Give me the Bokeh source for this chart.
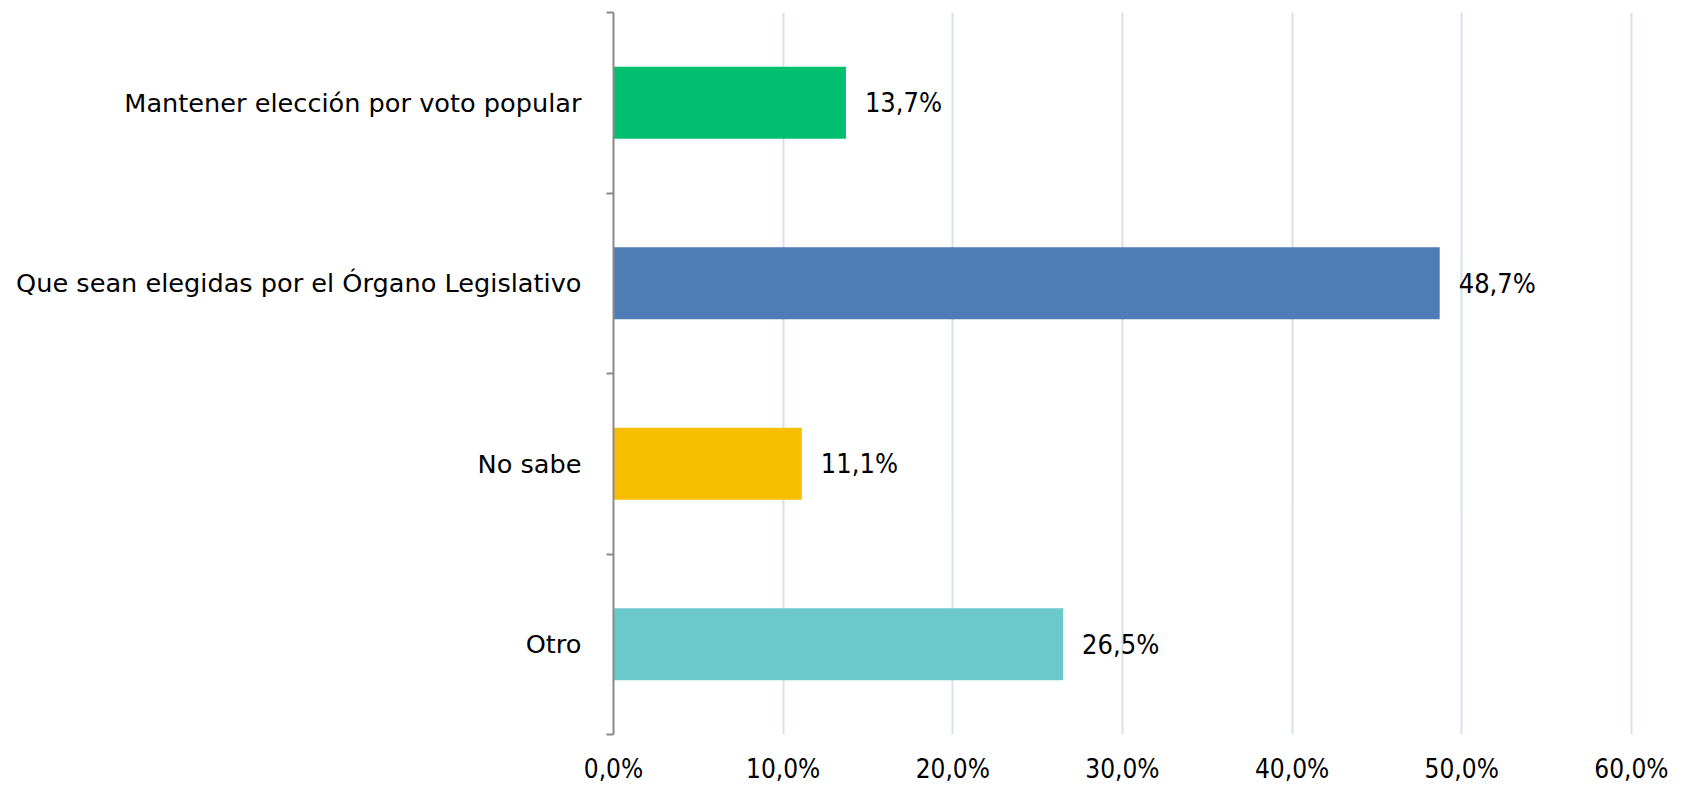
from bokeh.plotting import figure
from bokeh.models import Range1d, FixedTicker, ColumnDataSource
from bokeh.core.properties import value
from bokeh.embed import file_html
from bokeh.resources import INLINE

categories = ["Mantener elección por voto popular",
              "Que sean elegidas por el Órgano Legislativo",
              "No sabe",
              "Otro"]
values = [13.7, 48.7, 11.1, 26.5]
colors = ["#00BF6F", "#4E7CB5", "#F8BE00", "#6BC9CC"]
x_ticks = [0, 10, 20, 30, 40, 50, 60]
x_tick_labels = ["0,0%", "10,0%", "20,0%", "30,0%", "40,0%", "50,0%", "60,0%"]

FONT = "DejaVu Sans Condensed"
CAT_FONT = "DejaVu Sans"

n = len(categories)
ypos = [n - i - 0.5 for i in range(n)]
labels = [f"{v:.1f}".replace(".", ",") + "%" for v in values]

src = ColumnDataSource(dict(y=ypos, v=values, c=colors, lab=labels))

p = figure(width=1675, height=786, x_range=Range1d(0, 60.3), y_range=Range1d(0, n),
           output_backend="svg", toolbar_location=None,
           min_border_left=613, min_border_right=39, min_border_top=12, min_border_bottom=40)
p.outline_line_color = None
p.background_fill_color = "white"

p.hbar(y="y", right="v", left=0, height=0.4, color="c", line_color=None, source=src)
p.text(x="v", y="y", text="lab", source=src, x_offset=19,
       text_font=value(FONT), text_font_size="27px", text_baseline="middle",
       text_align="left", text_color="#000000")

# x axis
p.xaxis.ticker = FixedTicker(ticks=x_ticks)
p.xaxis.major_label_overrides = {t: l for t, l in zip(x_ticks, x_tick_labels)}
p.xaxis.axis_line_color = None
p.xaxis.major_tick_line_color = None
p.xaxis.minor_tick_line_color = None
p.xaxis.major_tick_out = 0
p.xaxis.major_tick_in = 0
p.xaxis.major_label_standoff = 19
p.xaxis.major_label_text_font = FONT
p.xaxis.major_label_text_font_size = "26px"
p.xaxis.major_label_text_color = "#000000"

# y axis: labels at centres, ticks at band boundaries
p.yaxis.ticker = FixedTicker(ticks=ypos, minor_ticks=list(range(n + 1)))
p.yaxis.major_label_overrides = {y: c for y, c in zip(ypos, categories)}
p.yaxis.major_tick_out = 0
p.yaxis.major_tick_in = 0
p.yaxis.minor_tick_out = 7
p.yaxis.minor_tick_in = 0
p.yaxis.minor_tick_line_color = "#8a8a8a"
p.yaxis.minor_tick_line_width = 2
p.yaxis.axis_line_color = "#8a8a8a"
p.yaxis.axis_line_width = 2
p.yaxis.major_label_standoff = 25
p.yaxis.major_label_text_font = CAT_FONT
p.yaxis.major_label_text_font_size = "25.6px"
p.yaxis.major_label_text_color = "#000000"

p.xgrid.ticker = FixedTicker(ticks=x_ticks[1:])
p.xgrid.grid_line_color = "#d6e0f0"
p.xgrid.grid_line_width = 2
p.ygrid.grid_line_color = None

open("out.html", "w").write(file_html(p, INLINE))
